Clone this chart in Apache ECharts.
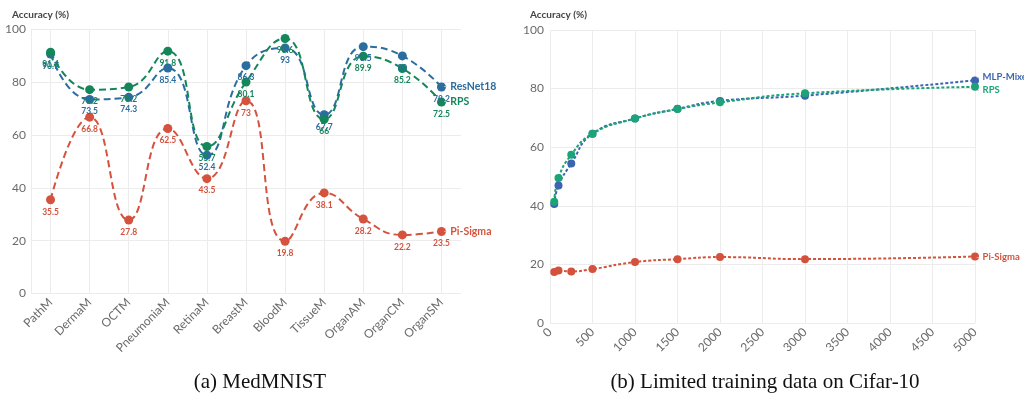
<!DOCTYPE html>
<html><head><meta charset="utf-8">
<script src="https://cdn.jsdelivr.net/npm/echarts@6/dist/echarts.min.js"></script>
<style>html,body{margin:0;padding:0;background:#fff}#c{width:1024px;height:395px}</style>
</head><body><div id="c"></div>
<script>
// ---- data ----
const medCategories = ['PathM','DermaM','OCTM','PneumoniaM','RetinaM','BreastM','BloodM','TissueM','OrganAM','OrganCM','OrganSM'];
const medResNet18 = [90.7,73.5,74.3,85.4,52.4,86.3,93,67.7,93.5,90,78.2];
const medRPS      = [91.4,77.2,78.2,91.8,55.7,80.1,96.6,66,89.9,85.2,72.5];
const medPiSigma  = [35.5,66.8,27.8,62.5,43.5,73,19.8,38.1,28.2,22.2,23.5];

const cifarSizes    = [50,100,250,500,1000,1500,2000,3000,5000];
const cifarMLPMixer = [40.6,46.9,54.4,64.6,69.8,73.1,75.8,77.6,82.8];
const cifarRPS      = [41.4,49.5,57.4,64.6,69.8,73.0,75.3,78.4,80.6];
const cifarPiSigma  = [17.4,17.9,17.6,18.4,20.8,21.8,22.5,21.8,22.7];

const yTickLabels = [0,20,40,60,80,100];
const cifarTickLabels = [0,500,1000,1500,2000,2500,3000,3500,4000,4500,5000];

// ---- style ----
const FONT = 'Lato';
const cL = {blue:'#2a6d9e', green:'#13865a', red:'#d5533e'};
const cR = {blue:'#3d64b0', green:'#1ba476', red:'#d4513c'};
const grey = '#6a6a6a';
const gridCol = '#ececec';

function endLbl(name, color, size, offset, dist){
  return {
    show:true, distance:dist, offset: offset||[0,0],
    formatter: '{l|-}{n|'+name+'}',
    rich:{
      l:{color:'#c8c8c8', fontFamily:FONT, fontSize:size},
      n:{color:color, fontFamily:FONT, fontWeight:'bold', fontSize:size, padding:[0,0,0,3]}
    }
  };
}

function medSeries(name, data, color){
  return {
    name, type:'line', xAxisIndex:0, yAxisIndex:0, data,
    smooth:0.5, symbol:'circle', symbolSize:9,
    itemStyle:{color},
    lineStyle:{color, width:2, type:[7,4]},
    label:{show:true, position:'bottom', distance:3, color, fontFamily:FONT, fontWeight:'bold', fontSize:8.5},
    endLabel: endLbl(name, color, 10.5, [0,0], 2),
    z:3
  };
}
function cifarSeries(name, vals, color, off){
  return {
    name, type:'line', xAxisIndex:1, yAxisIndex:1,
    data: cifarSizes.map((s,i)=>[s, vals[i]]),
    smooth:0.5, symbol:'circle', symbolSize:8,
    itemStyle:{color},
    lineStyle:{color, width:2, type:[3,2]},
    endLabel: endLbl(name, color, 9.5, off, 1),
    z:3
  };
}

const axisLabelStyle = {color:grey, fontFamily:FONT, fontSize:12};

const option = {
  animation:false,
  backgroundColor:'#fff',
  title:[
    {text:'Accuracy (%)', left:7, top:5, textStyle:{fontFamily:FONT, fontWeight:'bold', fontSize:10, color:'#444'}},
    {text:'Accuracy (%)', left:525, top:5, textStyle:{fontFamily:FONT, fontWeight:'bold', fontSize:10, color:'#444'}},
    {text:'(a) MedMNIST', left:255, top:367, textAlign:'center', textStyle:{fontFamily:'Liberation Serif', fontWeight:'normal', fontSize:21, color:'#111'}},
    {text:'(b) Limited training data on Cifar-10', left:760, top:367, textAlign:'center', textStyle:{fontFamily:'Liberation Serif', fontWeight:'normal', fontSize:21, color:'#111'}}
  ],
  grid:[
    {left:31, top:29.5, width:430, height:264, containLabel:false},
    {left:550, top:30, width:425, height:293, containLabel:false}
  ],
  xAxis:[
    {gridIndex:0, type:'category', data:medCategories, boundaryGap:true,
     axisLine:{show:false}, axisTick:{show:false},
     axisLabel:Object.assign({rotate:45, margin:7, interval:0}, axisLabelStyle),
     splitLine:{show:true, alignWithLabel:true, lineStyle:{color:gridCol, width:1}}},
    {gridIndex:1, type:'value', min:0, max:5000, interval:500,
     axisLine:{show:false}, axisTick:{show:false},
     axisLabel:Object.assign({rotate:45, margin:7, formatter:v=>String(cifarTickLabels[Math.round(v/500)])}, axisLabelStyle),
     splitLine:{show:true, lineStyle:{color:gridCol, width:1}}}
  ],
  yAxis:[
    {gridIndex:0, type:'value', min:0, max:100, interval:20,
     axisLine:{show:true, lineStyle:{color:gridCol}}, axisTick:{show:false},
     axisLabel:Object.assign({margin:5, formatter:v=>String(yTickLabels[Math.round(v/20)])}, axisLabelStyle),
     splitLine:{show:true, lineStyle:{color:gridCol, width:1}}},
    {gridIndex:1, type:'value', min:0, max:100, interval:20,
     axisLine:{show:false}, axisTick:{show:false},
     axisLabel:Object.assign({margin:6, formatter:v=>String(yTickLabels[Math.round(v/20)])}, axisLabelStyle),
     splitLine:{show:true, lineStyle:{color:gridCol, width:1}}}
  ],
  series:[
    medSeries('Pi-Sigma', medPiSigma, cL.red),
    medSeries('ResNet18', medResNet18, cL.blue),
    medSeries('RPS', medRPS, cL.green),
    cifarSeries('Pi-Sigma', cifarPiSigma, cR.red),
    cifarSeries('MLP-Mixer', cifarMLPMixer, cR.blue, [0,-3]),
    cifarSeries('RPS', cifarRPS, cR.green, [0,3])
  ]
};
const chart = echarts.init(document.getElementById('c'), null, {renderer:'canvas'});
chart.setOption(option);
</script>
</body></html>
